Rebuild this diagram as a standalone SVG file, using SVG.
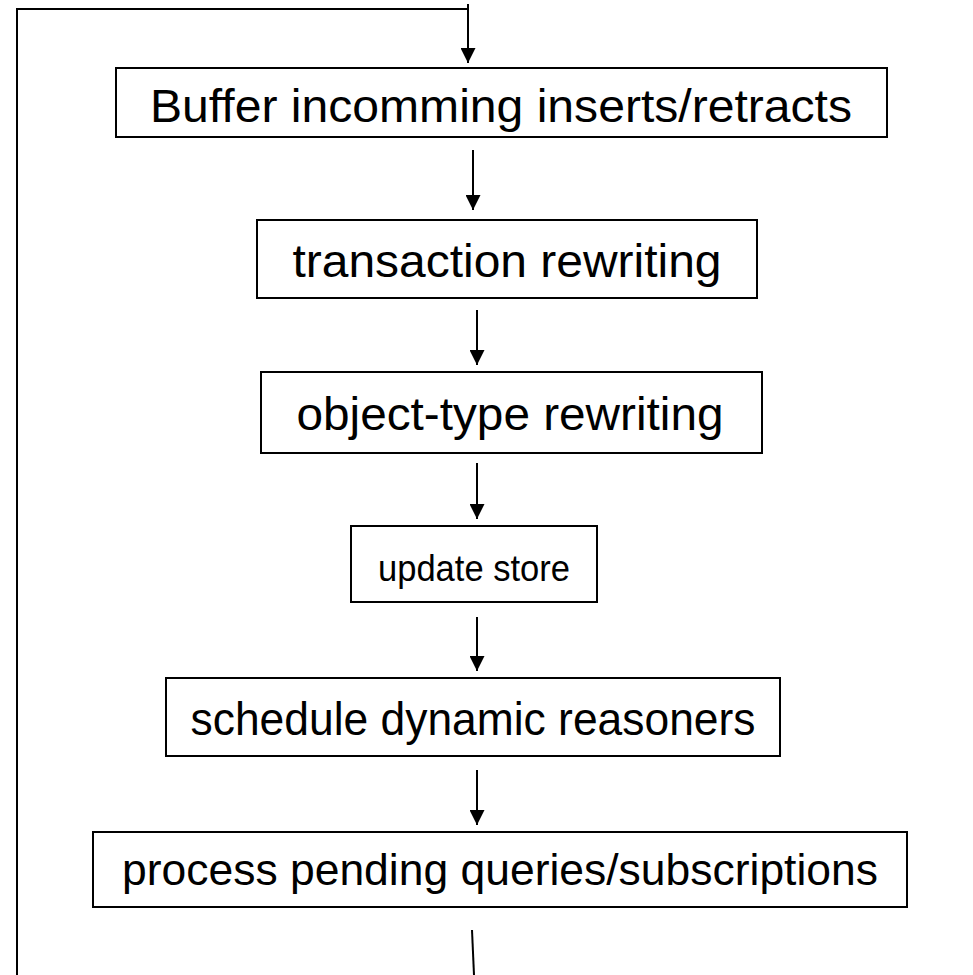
<svg xmlns="http://www.w3.org/2000/svg" width="973" height="975" viewBox="0 0 973 975">
  <style>
    .box { fill: #ffffff; stroke: #000000; stroke-width: 2; }
    .label { font-family: "Liberation Sans", Arial, sans-serif; fill: #000000; text-anchor: middle; }
    .line { fill: none; stroke: #000000; stroke-width: 2; }
  </style>
  <defs>
    <marker id="arrow" viewBox="0 0 10 10" refX="10" refY="5" markerWidth="15" markerHeight="15" orient="auto" markerUnits="userSpaceOnUse">
      <path d="M0,0 L10,5 L0,10 Z" fill="#000000"/>
    </marker>
  </defs>
  <rect width="973" height="975" fill="#ffffff"/>

  <g id="connectors">
    <!-- feedback loop back to the top -->
    <polyline class="line" points="17,975 17,9 468,9"/>
    <line class="line" x1="468" y1="4" x2="468" y2="63" marker-end="url(#arrow)"/>
    <line class="line" x1="473" y1="150" x2="473" y2="210" marker-end="url(#arrow)"/>
    <line class="line" x1="477" y1="310" x2="477" y2="365" marker-end="url(#arrow)"/>
    <line class="line" x1="477" y1="463" x2="477" y2="519" marker-end="url(#arrow)"/>
    <line class="line" x1="477" y1="617" x2="477" y2="671" marker-end="url(#arrow)"/>
    <line class="line" x1="477" y1="770" x2="477" y2="825" marker-end="url(#arrow)"/>
    <line class="line" x1="472" y1="930" x2="474" y2="975"/>
  </g>

  <g id="buffer">
    <rect class="box" x="116" y="68" width="771" height="69"/>
    <text class="label" x="501" y="122" font-size="47" textLength="702" lengthAdjust="spacingAndGlyphs">Buffer incomming inserts/retracts</text>
  </g>
  <g id="transaction-rewriting">
    <rect class="box" x="257" y="220" width="500" height="78"/>
    <text class="label" x="507" y="277" font-size="47" textLength="429" lengthAdjust="spacingAndGlyphs">transaction rewriting</text>
  </g>
  <g id="object-type-rewriting">
    <rect class="box" x="261" y="372" width="501" height="81"/>
    <text class="label" x="510" y="430" font-size="47" textLength="427" lengthAdjust="spacingAndGlyphs">object-type rewriting</text>
  </g>
  <g id="update-store">
    <rect class="box" x="351" y="526" width="246" height="76"/>
    <text class="label" x="474" y="581" font-size="36" textLength="192" lengthAdjust="spacingAndGlyphs">update store</text>
  </g>
  <g id="schedule-reasoners">
    <rect class="box" x="166" y="678" width="614" height="78"/>
    <text class="label" x="473" y="735" font-size="46" textLength="565" lengthAdjust="spacingAndGlyphs">schedule dynamic reasoners</text>
  </g>
  <g id="process-queries">
    <rect class="box" x="93" y="832" width="814" height="75"/>
    <text class="label" x="500" y="885" font-size="45" textLength="756" lengthAdjust="spacingAndGlyphs">process pending queries/subscriptions</text>
  </g>
</svg>
